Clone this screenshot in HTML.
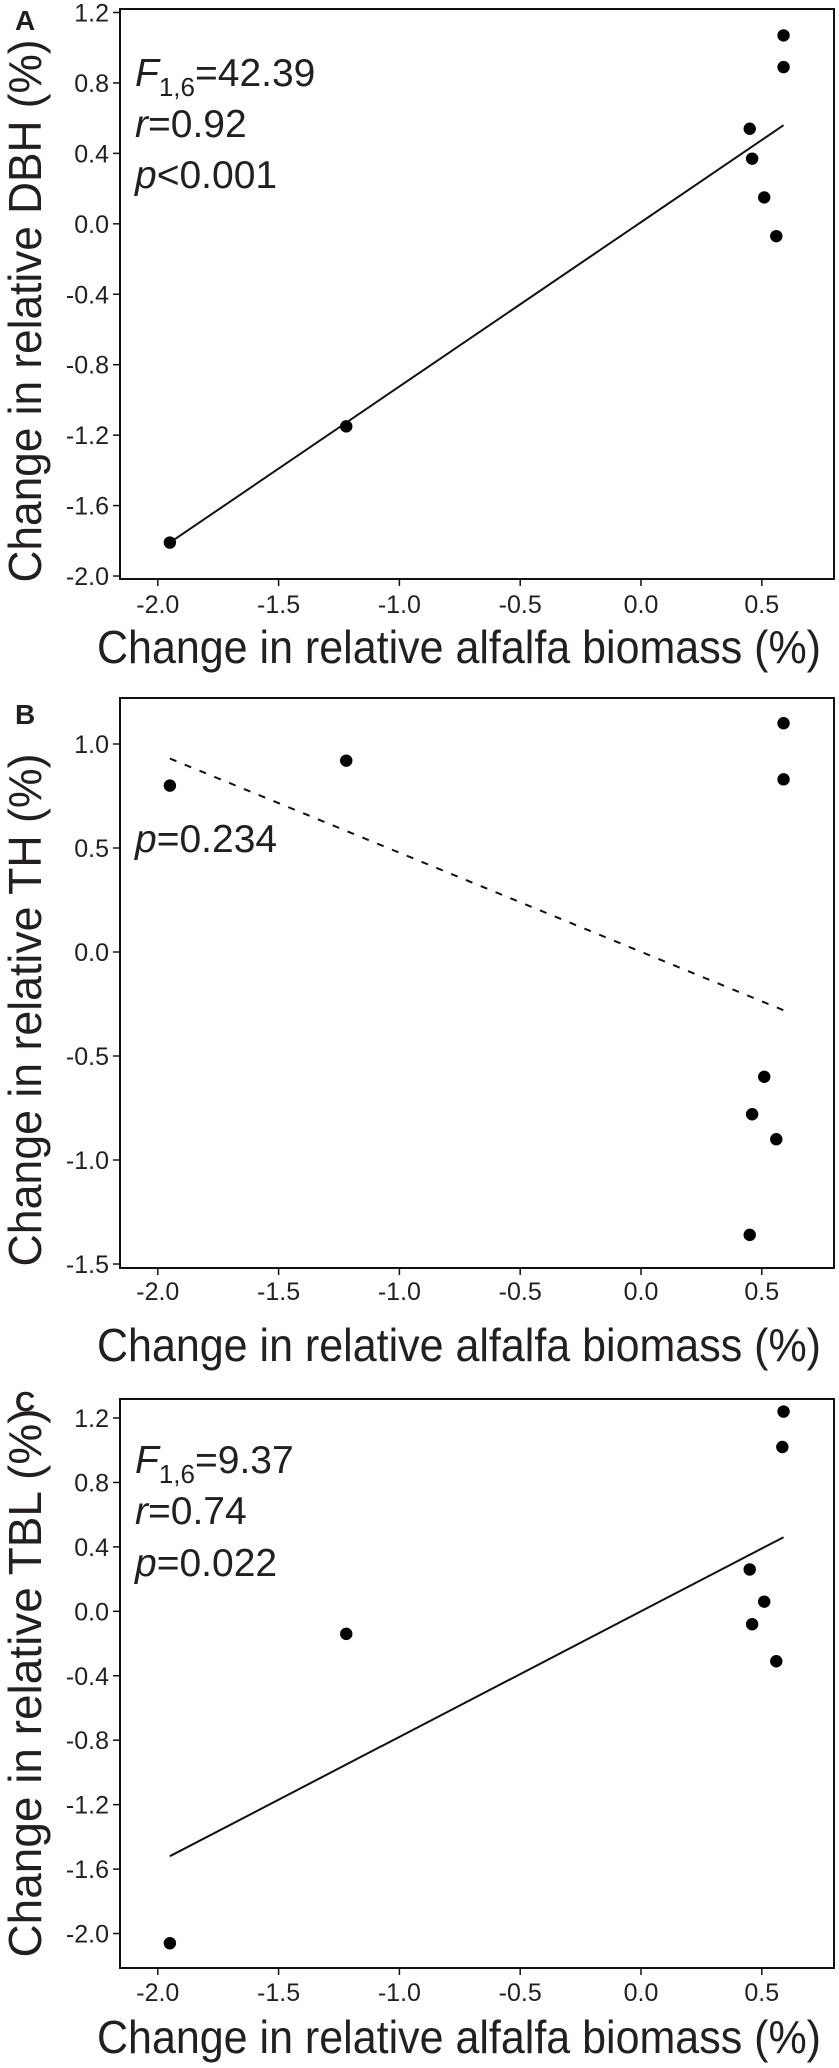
<!DOCTYPE html>
<html><head><meta charset="utf-8"><style>
html,body{margin:0;padding:0;background:#fff;}
svg{display:block;font-family:"Liberation Sans",Arial,sans-serif;}
</style></head><body>
<svg id="fig" width="839" height="2068" viewBox="0 0 839 2068" xmlns="http://www.w3.org/2000/svg"></svg>
<script>
const xTicks = [-2.0, -1.5, -1.0, -0.5, 0.0, 0.5];
const xTickLabels = ["-2.0", "-1.5", "-1.0", "-0.5", "0.0", "0.5"];
const aX = [-1.95, -1.22, 0.45, 0.46, 0.51, 0.56, 0.59, 0.59];
const aY = [-1.81, -1.15, 0.54, 0.37, 0.15, -0.07, 1.07, 0.89];
const aFitX = [-1.95, 0.59];
const aFitY = [-1.81, 0.56];
const aYTicks = [1.2, 0.8, 0.4, 0.0, -0.4, -0.8, -1.2, -1.6, -2.0];
const aYTickLabels = ["1.2", "0.8", "0.4", "0.0", "-0.4", "-0.8", "-1.2", "-1.6", "-2.0"];
const bX = [-1.95, -1.22, 0.59, 0.59, 0.51, 0.46, 0.56, 0.45];
const bY = [0.80, 0.92, 1.10, 0.83, -0.60, -0.78, -0.90, -1.36];
const bFitX = [-1.95, 0.59];
const bFitY = [0.93, -0.28];
const bYTicks = [1.0, 0.5, 0.0, -0.5, -1.0, -1.5];
const bYTickLabels = ["1.0", "0.5", "0.0", "-0.5", "-1.0", "-1.5"];
const cX = [0.59, 0.585, 0.45, 0.51, 0.46, 0.56, -1.22, -1.95];
const cY = [1.24, 1.02, 0.26, 0.06, -0.08, -0.31, -0.14, -2.06];
const cFitX = [-1.95, 0.59];
const cFitY = [-1.52, 0.46];
const cYTicks = [1.2, 0.8, 0.4, 0.0, -0.4, -0.8, -1.2, -1.6, -2.0];
const cYTickLabels = ["1.2", "0.8", "0.4", "0.0", "-0.4", "-0.8", "-1.2", "-1.6", "-2.0"];

const NS = "http://www.w3.org/2000/svg";
const svg = document.getElementById('fig');
function mk(tag, attrs, parent, text){
  const e = document.createElementNS(NS, tag);
  for (const k in attrs) e.setAttribute(k, attrs[k]);
  if (text !== undefined) e.textContent = text;
  (parent||svg).appendChild(e);
  return e;
}
function panel(cfg){
  const g = mk('g', {});
  
  
  const L=120, R=834, T=cfg.top, B=cfg.bottom;
  const xs = v => 641 + v*241.6;
  const ys = v => cfg.y0px + (cfg.y0val - v)*cfg.ppu;
  const fr = mk('rect', {x:L,y:T,width:R-L,height:B-T,fill:'none',stroke:'#111','stroke-width':2}, g);
  
  
  xTicks.forEach((v,i)=>{
    const t = mk('line', {x1:xs(v),x2:xs(v),y1:B,y2:B+7,stroke:'#111','stroke-width':1.5}, g);
    
    
    const l = mk('text', {x:xs(v),y:cfg.xLabBase,'text-anchor':'middle','font-size':25,fill:'#231f20'}, g, xTickLabels[i]);
    
    
  });
  cfg.yTicks.forEach((v,i)=>{
    const t = mk('line', {x1:L-7,x2:L,y1:ys(v),y2:ys(v),stroke:'#111','stroke-width':1.5}, g);
    
    
    const l = mk('text', {x:L-11,y:ys(v)+9,'text-anchor':'end','font-size':25,fill:'#231f20'}, g, cfg.yTickLabels[i]);
    
    
  });
  const fit = mk('line', {x1:xs(cfg.fitX[0]),y1:ys(cfg.fitY[0]),x2:xs(cfg.fitX[1]),y2:ys(cfg.fitY[1]),stroke:'#111','stroke-width':2}, g);
  if (cfg.dashed) fit.setAttribute('stroke-dasharray','7 9');
  
  
  cfg.xs.forEach((v,i)=>{
    const c = mk('circle', {cx:xs(v),cy:ys(cfg.ys[i]),r:6.2,fill:'#000'}, g);
    
    
  });
  const xt = mk('text', {x:459,y:cfg.xTitleBase,'text-anchor':'middle','font-size':46,fill:'#231f20',textLength:724,lengthAdjust:'spacingAndGlyphs'}, g, 'Change in relative alfalfa biomass (%)');
  
  
  const yt = mk('text', {x:0,y:0,'text-anchor':'middle','font-size':46,fill:'#231f20',textLength:cfg.yTitleLen,lengthAdjust:'spacingAndGlyphs',transform:`translate(41,${cfg.yTitleC}) rotate(-90)`}, g, cfg.yTitle);
  
  
  const pl = mk('text', {x:15,y:cfg.letterBase,'font-size':28,'font-weight':'bold',fill:'#231f20'}, g, cfg.letter);
  
  
  cfg.stats.forEach(s=>{
    const t = mk('text', {x:135,y:s.y,'font-size':39,fill:'#231f20'}, g);
    
    
    t.innerHTML = s.html;
  });
}
panel({name:'panel-a-dbh',top:9,bottom:579,y0px:12.5,y0val:1.2,ppu:176.1,yTicks:aYTicks,yTickLabels:aYTickLabels,
  xs:aX,ys:aY,fitX:aFitX,fitY:aFitY,dashed:false,xLabBase:613,xTitleBase:663,
  yTitle:'Change in relative DBH (%)',yTitleC:311,yTitleLen:543,letter:'A',letterBase:30,
  stats:[{y:86,html:'<tspan font-style="italic">F</tspan><tspan font-size="26" dy="10">1,6</tspan><tspan dy="-10">=42.39</tspan>'},
         {y:137,html:'<tspan font-style="italic">r</tspan>=0.92'},
         {y:188,html:'<tspan font-style="italic">p</tspan>&lt;0.001'}]});
panel({name:'panel-b-th',top:698,bottom:1268,y0px:744,y0val:1.0,ppu:208,yTicks:bYTicks,yTickLabels:bYTickLabels,
  xs:bX,ys:bY,fitX:bFitX,fitY:bFitY,dashed:true,xLabBase:1300,xTitleBase:1361,
  yTitle:'Change in relative TH (%)',yTitleC:1010,yTitleLen:513,letter:'B',letterBase:724,
  stats:[{y:852,html:'<tspan font-style="italic">p</tspan>=0.234'}]});
panel({name:'panel-c-tbl',top:1399,bottom:1968,y0px:1418,y0val:1.2,ppu:161.1,yTicks:cYTicks,yTickLabels:cYTickLabels,
  xs:cX,ys:cY,fitX:cFitX,fitY:cFitY,dashed:false,xLabBase:2001,xTitleBase:2053,
  yTitle:'Change in relative TBL (%)',yTitleC:1683,yTitleLen:549,letter:'C',letterBase:1411,
  stats:[{y:1473,html:'<tspan font-style="italic">F</tspan><tspan font-size="26" dy="10">1,6</tspan><tspan dy="-10">=9.37</tspan>'},
         {y:1524,html:'<tspan font-style="italic">r</tspan>=0.74'},
         {y:1576,html:'<tspan font-style="italic">p</tspan>=0.022'}]});
</script>
</body></html>
